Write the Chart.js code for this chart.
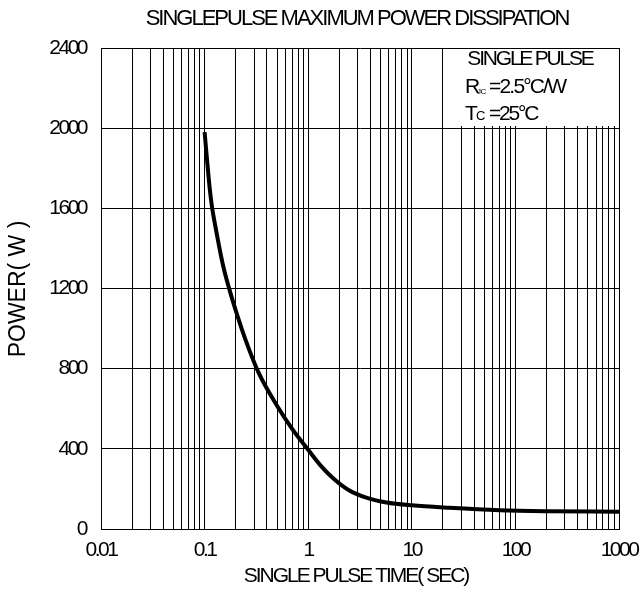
<!DOCTYPE html>
<html>
<head>
<meta charset="utf-8">
<script src="https://cdn.jsdelivr.net/npm/chart.js@4"></script>
<style>
  html, body { margin: 0; padding: 0; background: #fff; }
  #wrap { width: 643px; height: 592px; }
</style>
</head>
<body>
<div id="wrap"><canvas id="chartPulse" width="643" height="592"></canvas></div>
<script>
// curve
const pulseTime = [0.1, 0.112, 0.118, 0.126, 0.15, 0.174, 0.2, 0.25, 0.332, 0.5, 0.7, 1, 1.3, 1.75, 2.5, 3.7, 5.7, 10, 23, 70, 200, 1000];
const powerW = [1980, 1700, 1605, 1520, 1320, 1193, 1090, 940, 780, 615, 500, 395, 320, 252, 192, 155, 132, 118, 106, 94, 89, 86];

const xDecades = [0.01, 0.1, 1, 10, 100, 1000];
const xTickLabels = ['0.01', '0.1', '1', '10', '100', '1000'];
const minorSteps = [1, 2, 3, 4, 5, 6, 7, 8, 9];
const yTickLabels = ['0', '400', '800', '1200', '1600', '2000', '2400'];

const titleText = 'SINGLEPULSE MAXIMUM POWER DISSIPATION';
const xTitle = 'SINGLE PULSE TIME( SEC)';
const yTitle = 'POWER( W )';

const fontFam = "'Liberation Sans', Arial, sans-serif";

const points = pulseTime.map((t, i) => ({ x: t, y: powerW[i] }));

// grid at 1..9 of every decade, labels only on decades
const gridValues = [];
xDecades.forEach((d, i) => {
  if (i === xDecades.length - 1) { gridValues.push(d); return; }
  minorSteps.forEach(m => gridValues.push(+(d * m).toPrecision(3)));
});

function put(ctx, text, x, y, size, spacing, align) {
  ctx.font = `${size}px ${fontFam}`;
  ctx.letterSpacing = `${spacing}px`;
  ctx.textAlign = align || 'left';
  ctx.fillText(text, x, y);
}

const textPlugin = {
  id: 'textPlugin',
  beforeDraw(chart) {
    chart.ctx.letterSpacing = '-2.5px';
  },
  beforeDatasetsDraw(chart) {
    // blank panel behind the note, grid does not run through it
    const ctx = chart.ctx;
    const area = chart.chartArea;
    ctx.save();
    ctx.fillStyle = '#fff';
    ctx.fillRect(445, area.top + 1, area.right - 446, 125 - area.top);
    ctx.restore();
  },
  afterDraw(chart) {
    const ctx = chart.ctx;
    ctx.save();
    ctx.fillStyle = '#000';
    ctx.textBaseline = 'middle';

    put(ctx, titleText, 357, 19, 22, -2, 'center');
    put(ctx, xTitle, 356, 576, 21, -2, 'center');

    ctx.save();
    ctx.translate(19, 289);
    ctx.rotate(-Math.PI / 2);
    put(ctx, yTitle, 0, 0, 23, 0, 'center');
    ctx.restore();

    // note
    put(ctx, 'SINGLE PULSE', 530, 59, 21, -2.2, 'center');
    put(ctx, 'R', 465, 87, 21, 0);
    put(ctx, 'JC', 477, 92, 8, -0.5);
    put(ctx, '=2.5°C/W', 489, 87, 21, -1.8);
    put(ctx, 'T', 465, 114, 21, -1);
    put(ctx, 'C', 476, 116, 13, -0.5);
    put(ctx, '=25°C', 489, 114, 21, -2.2);
    ctx.restore();
  }
};

const ctxPulse = document.getElementById('chartPulse').getContext('2d');

new Chart(ctxPulse, {
  type: 'line',
  data: {
    datasets: [{
      data: points,
      borderColor: '#000',
      borderWidth: 4,
      pointRadius: 0,
      fill: false,
      cubicInterpolationMode: 'monotone'
    }]
  },
  options: {
    responsive: false,
    animation: false,
    events: [],
    layout: { padding: { top: 48, right: 24, left: 0, bottom: 0 } },
    plugins: {
      legend: { display: false },
      tooltip: { enabled: false },
      title: { display: false }
    },
    scales: {
      x: {
        type: 'logarithmic',
        min: 0.01,
        max: 1000,
        afterBuildTicks: scale => {
          scale.ticks = gridValues.map(v => ({ value: v }));
        },
        afterFit: scale => {
          scale.height = 63;
          scale.paddingLeft = 0;
          scale.paddingRight = 0;
        },
        grid: { color: '#000', lineWidth: 1, drawTicks: false },
        border: { color: '#000', width: 1 },
        ticks: {
          autoSkip: false,
          maxRotation: 0,
          padding: 9,
          color: '#000',
          font: { family: fontFam, size: 21 },
          callback: value => {
            const idx = xDecades.findIndex(d => Math.abs(d - value) < d * 1e-6);
            return idx >= 0 ? xTickLabels[idx] : '';
          }
        }
      },
      y: {
        min: 0,
        max: 2400,
        afterFit: scale => {
          scale.width = 101;
          scale.paddingTop = 0;
          scale.paddingBottom = 0;
        },
        grid: { color: '#000', lineWidth: 1, drawTicks: false },
        border: { color: '#000', width: 1 },
        ticks: {
          stepSize: 400,
          padding: 15,
          color: '#000',
          font: { family: fontFam, size: 21 },
          callback: (value, i) => yTickLabels[i]
        }
      }
    }
  },
  plugins: [textPlugin]
});
</script>
</body>
</html>
